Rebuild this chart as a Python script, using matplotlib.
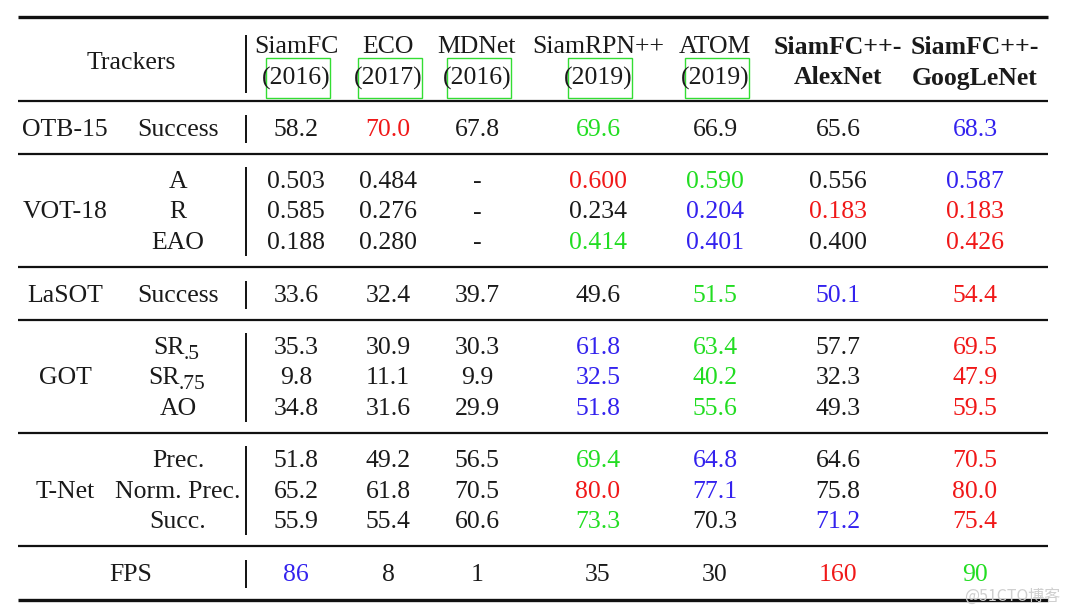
import matplotlib
matplotlib.use("Agg")
import matplotlib.pyplot as plt
from matplotlib.patches import Rectangle

# ---------------- data ----------------
trackers = ["SiamFC", "ECO", "MDNet", "SiamRPN++", "ATOM", "SiamFC++-", "SiamFC++-"]
years = ["(2016)", "(2017)", "(2016)", "(2019)", "(2019)", "AlexNet", "GoogLeNet"]
bold_cols = [False, False, False, False, False, True, True]
boxed_cols = [True, True, True, True, True, False, False]

otb_metrics = ["Success"]
otb_vals = [["58.2", "70.0", "67.8", "69.6", "66.9", "65.6", "68.3"]]
otb_cols = [["k", "r", "k", "g", "k", "k", "b"]]

vot_metrics = ["A", "R", "EAO"]
vot_vals = [["0.503", "0.484", "-", "0.600", "0.590", "0.556", "0.587"],
            ["0.585", "0.276", "-", "0.234", "0.204", "0.183", "0.183"],
            ["0.188", "0.280", "-", "0.414", "0.401", "0.400", "0.426"]]
vot_cols = [["k", "k", "k", "r", "g", "k", "b"],
            ["k", "k", "k", "k", "b", "r", "r"],
            ["k", "k", "k", "g", "b", "k", "r"]]

lasot_metrics = ["Success"]
lasot_vals = [["33.6", "32.4", "39.7", "49.6", "51.5", "50.1", "54.4"]]
lasot_cols = [["k", "k", "k", "k", "g", "b", "r"]]

# metric name, subscript
got_metrics = [("SR", ".5"), ("SR", ".75"), ("AO", "")]
got_vals = [["35.3", "30.9", "30.3", "61.8", "63.4", "57.7", "69.5"],
            ["9.8", "11.1", "9.9", "32.5", "40.2", "32.3", "47.9"],
            ["34.8", "31.6", "29.9", "51.8", "55.6", "49.3", "59.5"]]
got_cols = [["k", "k", "k", "b", "g", "k", "r"],
            ["k", "k", "k", "b", "g", "k", "r"],
            ["k", "k", "k", "b", "g", "k", "r"]]

tnet_metrics = ["Prec.", "Norm. Prec.", "Succ."]
tnet_vals = [["51.8", "49.2", "56.5", "69.4", "64.8", "64.6", "70.5"],
             ["65.2", "61.8", "70.5", "80.0", "77.1", "75.8", "80.0"],
             ["55.9", "55.4", "60.6", "73.3", "70.3", "71.2", "75.4"]]
tnet_cols = [["k", "k", "k", "g", "b", "k", "r"],
             ["k", "k", "k", "r", "b", "k", "r"],
             ["k", "k", "k", "g", "k", "b", "r"]]

fps_vals = ["86", "8", "1", "35", "30", "160", "90"]
fps_cols = ["b", "k", "k", "k", "k", "r", "g"]

groups = [("OTB-15", otb_metrics, otb_vals, otb_cols),
          ("VOT-18", vot_metrics, vot_vals, vot_cols),
          ("LaSOT", lasot_metrics, lasot_vals, lasot_cols),
          ("GOT", got_metrics, got_vals, got_cols),
          ("T-Net", tnet_metrics, tnet_vals, tnet_cols)]

# ---------------- layout ----------------
COLORS = {"k": "#1a1a1a", "r": "#f01818", "g": "#22dd22", "b": "#3322ee"}
FS = 18.5
FONT = "Liberation Serif"
col_x = [296, 388, 477, 598, 715, 838, 975]
name_x = 65
metric_x = 178
vbar_x = 246
x_left, x_right = 18, 1048
row_h = 30.3
DY = 2  # text offset

fig = plt.figure(figsize=(10.7, 6.13), dpi=100)
ax = fig.add_axes([0, 0, 1, 1])
ax.set_xlim(0, 1070)
ax.set_ylim(613, 0)
ax.axis("off")


def hline(y, lw):
    ax.plot([x_left, x_right], [y, y], color="#111111", lw=lw, solid_capstyle="butt")


def vbar(y0, y1):
    ax.plot([vbar_x, vbar_x], [y0, y1], color="#111111", lw=1.4, solid_capstyle="butt")


def txt(x, y, s, color="k", weight="normal", ha="center", fs=FS):
    ax.text(x, y + DY, s, ha=ha, va="center", fontsize=fs, family=FONT,
            color=COLORS[color], fontweight=weight)


# header
hline(17, 2.4)
txt(131, 61, "Trackers")
vbar(35, 93)
for i, (t, yr) in enumerate(zip(trackers, years)):
    w = "bold" if bold_cols[i] else "normal"
    txt(col_x[i], 45, t, weight=w)
    txt(col_x[i], 76, yr, weight=w)
    if boxed_cols[i]:
        ax.add_patch(Rectangle((col_x[i] - 30, 58), 64, 40, fill=False,
                               edgecolor="#33dd33", lw=1.0))
y_line = 101
hline(y_line, 1.6)

for name, metrics, vals, cols in groups:
    n = len(metrics)
    height = 53 if n == 1 else 113
    y0 = y_line
    y_center = y0 + height / 2
    ys = [y_center + (k - (n - 1) / 2) * row_h for k in range(n)]
    txt(name_x, y_center, name)
    for k in range(n):
        m = metrics[k]
        if isinstance(m, tuple) and m[1]:
            main, sub = m
            split = metric_x + (7 if len(sub) == 2 else 2)
            txt(split, ys[k], main, ha="right")
            txt(split - 1, ys[k] + 6, sub, ha="left", fs=15.5)
        else:
            if isinstance(m, tuple):
                m = m[0]
            txt(metric_x, ys[k], m)
        for i in range(7):
            txt(col_x[i], ys[k], vals[k][i], color=cols[k][i])
    vbar(ys[0] - 13, ys[-1] + 15)
    y_line = y0 + height
    hline(y_line, 1.6)

# FPS row
y_fps = y_line + 27
txt(131, y_fps, "FPS")
vbar(y_fps - 13, y_fps + 15)
for i in range(7):
    txt(col_x[i], y_fps, fps_vals[i], color=fps_cols[i])
hline(600, 2.4)

ax.text(1060, 596, "@51CTO博客", ha="right", va="center", fontsize=11.5,
        family=["Noto Sans CJK SC", "DejaVu Sans"], color="#cfcfcf")

fig.savefig("out.png", dpi=100)
